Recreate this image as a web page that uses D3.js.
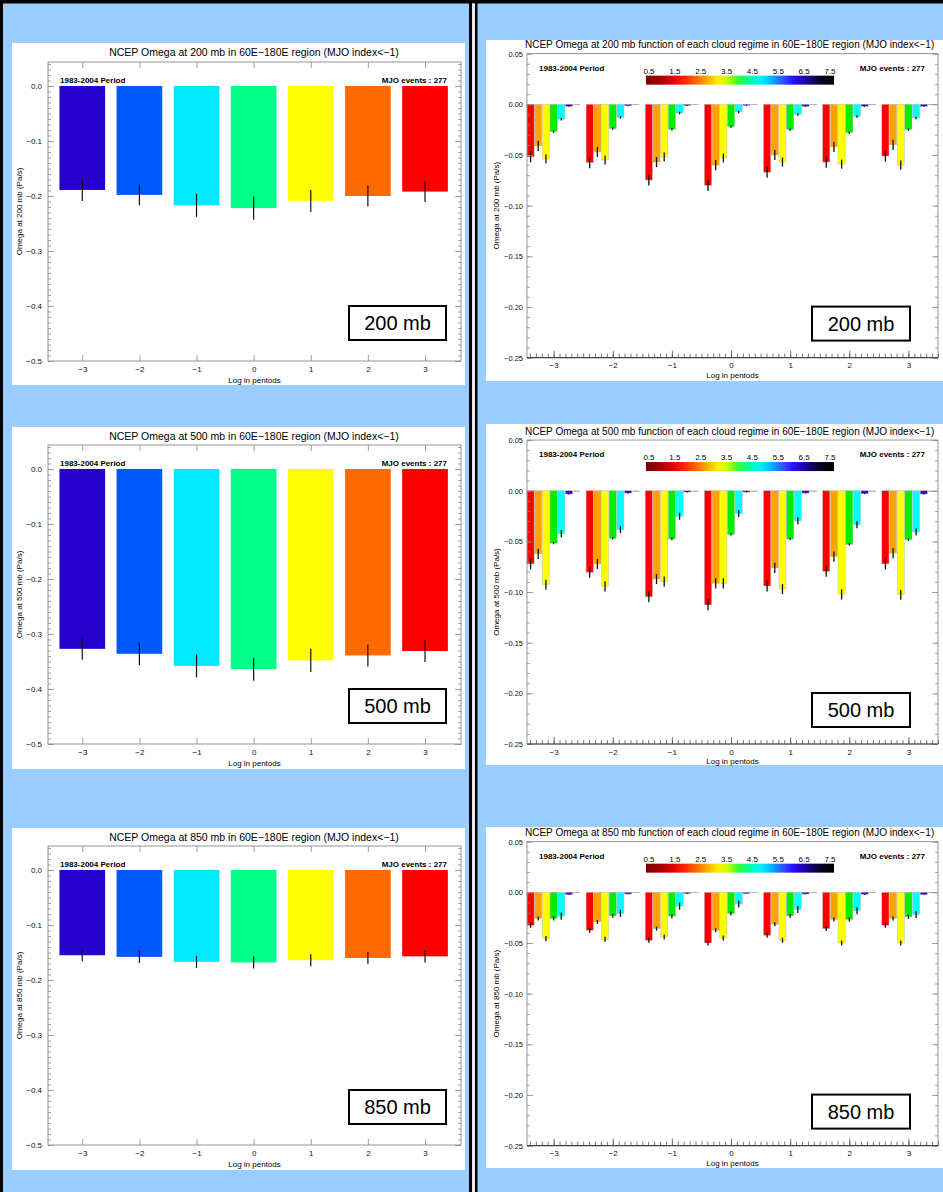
<!DOCTYPE html>
<html>
<head>
<meta charset="utf-8">
<script src="https://cdn.jsdelivr.net/npm/d3@7"></script>
<style>
  html, body { margin: 0; padding: 0; background: #99ccff; }
  svg { display: block; }
  text { font-family: "Liberation Sans", Arial, sans-serif; }
</style>
</head>
<body>
<svg id="chart" width="943" height="1192"></svg>
<script>
// ---------------- DATA ----------------
const lags = [-3, -2, -1, 0, 1, 2, 3];
const levels = ["200", "500", "850"];
const lagColors = ["#2600cc", "#0058ff", "#00eaff", "#00ff88", "#ffff00", "#ff6a00", "#ff0000"];

// mean omega (Pa/s) for each lag, left column
const omega200 = [-0.189, -0.198, -0.217, -0.222, -0.209, -0.200, -0.192];
const omega500 = [-0.327, -0.336, -0.358, -0.364, -0.348, -0.339, -0.331];
const omega850 = [-0.155, -0.158, -0.167, -0.168, -0.164, -0.160, -0.157];
const err200 = [0.020, 0.019, 0.021, 0.021, 0.020, 0.019, 0.019];
const err500 = [0.020, 0.021, 0.021, 0.021, 0.021, 0.020, 0.020];
const err850 = [0.011, 0.011, 0.011, 0.011, 0.011, 0.011, 0.011];

// omega by cloud regime (1..7) for each lag, right column
const regimes = [1, 2, 3, 4, 5, 6, 7];
const regimeColors = ["#ff0000", "#ffa200", "#ffff00", "#00ee00", "#00ffff", "#3c00e0", "#333333"];
const colorbarLabels = ["0.5", "1.5", "2.5", "3.5", "4.5", "5.5", "6.5", "7.5"];
const regime200 = [
  [-0.0517, -0.0410, -0.0540, -0.0270, -0.0148, -0.0020, -0.0005],
  [-0.0575, -0.0470, -0.0550, -0.0240, -0.0130, -0.0015, -0.0005],
  [-0.0747, -0.0570, -0.0520, -0.0247, -0.0086, -0.0012, -0.0005],
  [-0.0800, -0.0600, -0.0530, -0.0220, -0.0076, -0.0012, -0.0005],
  [-0.0670, -0.0500, -0.0570, -0.0250, -0.0100, -0.0020, -0.0005],
  [-0.0570, -0.0420, -0.0590, -0.0280, -0.0120, -0.0020, -0.0005],
  [-0.0510, -0.0400, -0.0600, -0.0250, -0.0135, -0.0020, -0.0005]
];
const regime500 = [
  [-0.0722, -0.0623, -0.0928, -0.0517, -0.0424, -0.0033, -0.0008],
  [-0.0805, -0.0722, -0.0944, -0.0470, -0.0384, -0.0023, -0.0008],
  [-0.1047, -0.0871, -0.0898, -0.0477, -0.0252, -0.0013, -0.0008],
  [-0.1127, -0.0915, -0.0915, -0.0431, -0.0225, -0.0013, -0.0008],
  [-0.0940, -0.0762, -0.0970, -0.0477, -0.0298, -0.0023, -0.0008],
  [-0.0795, -0.0650, -0.1024, -0.0530, -0.0335, -0.0030, -0.0008],
  [-0.0722, -0.0616, -0.1027, -0.0484, -0.0408, -0.0033, -0.0008]
];
const regime850 = [
  [-0.0325, -0.0258, -0.0457, -0.0258, -0.0235, -0.0023, -0.0005],
  [-0.0374, -0.0292, -0.0464, -0.0232, -0.0209, -0.0017, -0.0005],
  [-0.0474, -0.0358, -0.0441, -0.0235, -0.0136, -0.0013, -0.0005],
  [-0.0500, -0.0374, -0.0451, -0.0209, -0.0116, -0.0013, -0.0005],
  [-0.0424, -0.0315, -0.0474, -0.0232, -0.0169, -0.0017, -0.0005],
  [-0.0358, -0.0268, -0.0500, -0.0268, -0.0182, -0.0020, -0.0005],
  [-0.0325, -0.0258, -0.0500, -0.0242, -0.0219, -0.0023, -0.0005]
];
const regimeErr200 = [0.0055, 0.0050, 0.0045, 0.0012, 0.0012, 0.0004, 0];
const regimeErr500 = [0.0055, 0.0050, 0.0050, 0.0012, 0.0035, 0.0004, 0];
const regimeErr850 = [0.0025, 0.0020, 0.0025, 0.0020, 0.0035, 0.0003, 0];

const leftTicks = [0.0, -0.1, -0.2, -0.3, -0.4, -0.5];
const rightTicks = [0.05, 0.00, -0.05, -0.10, -0.15, -0.20, -0.25];

// ---------------- LAYOUT ----------------
const svg = d3.select("#chart");
const W = 943, H = 1192;
svg.append("rect").attr("width", W).attr("height", H).attr("fill", "#99ccff");
// outer borders
svg.append("rect").attr("x", 0).attr("y", 0).attr("width", W).attr("height", 3.5).attr("fill", "#000");
svg.append("rect").attr("x", 0).attr("y", 0).attr("width", 3).attr("height", H).attr("fill", "#000");
svg.append("rect").attr("x", 469).attr("y", 0).attr("width", 3).attr("height", H).attr("fill", "#000");
svg.append("rect").attr("x", 472).attr("y", 3.5).attr("width", 3).attr("height", H).attr("fill", "#e8e8e8");
svg.append("rect").attr("x", 475).attr("y", 0).attr("width", 2.5).attr("height", H).attr("fill", "#000");

const leftWhiteTop = [43, 427, 828];
const leftZero = [86, 469, 870];
const rightWhiteTop = [40, 424, 827];
const rightZero = [104.3, 490.7, 892.3];

const leftVals = [omega200, omega500, omega850];
const leftErrs = [err200, err500, err850];
const rightVals = [regime200, regime500, regime850];
const rightErrs = [regimeErr200, regimeErr500, regimeErr850];

const AXIS_COLOR = "#8a8a8a";

function styleAxis(g, fs) {
  g.select(".domain").remove();
  g.selectAll(".tick line").attr("stroke", AXIS_COLOR).attr("stroke-width", 0.8);
  g.selectAll(".tick text").attr("font-size", fs).attr("fill", "#111")
    .attr("font-family", "'Liberation Sans', Arial, sans-serif");
}

function drawLeft(k) {
  const g = svg.append("g");
  const zeroY = leftZero[k];
  const wt = leftWhiteTop[k];
  g.append("rect").attr("x", 12).attr("y", wt).attr("width", 453).attr("height", 342).attr("fill", "#fff");
  const x = d3.scaleLinear().domain([-3.6, 3.63]).range([48, 461]);
  const y = d3.scaleLinear().domain([-0.5, 0.0436]).range([zeroY + 275, zeroY - 24]);
  const fT = y(0.0436), fB = y(-0.5);

  g.append("text").attr("x", 254).attr("y", wt + 13).attr("text-anchor", "middle")
    .attr("font-size", 10.5).text(`NCEP Omega at ${levels[k]} mb in 60E\u2212180E region (MJO index<\u22121)`);

  // bars
  const bw = x(0.8) - x(0);
  g.selectAll(".bar").data(lags).join("rect")
    .attr("x", (d) => x(d) - bw / 2).attr("width", bw)
    .attr("y", y(0)).attr("height", (d, i) => y(leftVals[k][i]) - y(0))
    .attr("fill", (d, i) => lagColors[i]);
  g.selectAll(".err").data(lags).join("line")
    .attr("x1", (d) => x(d)).attr("x2", (d) => x(d))
    .attr("y1", (d, i) => y(leftVals[k][i] + leftErrs[k][i]))
    .attr("y2", (d, i) => y(leftVals[k][i] - leftErrs[k][i]))
    .attr("stroke", "#111").attr("stroke-width", 1.2);

  // frame
  g.append("rect").attr("x", 48).attr("y", fT).attr("width", 413).attr("height", fB - fT)
    .attr("fill", "none").attr("stroke", AXIS_COLOR).attr("stroke-width", 0.9);

  // axes
  const minor = d3.range(-50, 5).map((v) => v / 100);
  g.append("g").attr("transform", "translate(48,0)")
    .call(d3.axisLeft(y).tickValues(minor).tickSize(-3).tickFormat("")).call((a) => styleAxis(a, 8));
  g.append("g").attr("transform", "translate(461,0)")
    .call(d3.axisRight(y).tickValues(minor).tickSize(-3).tickFormat("")).call((a) => styleAxis(a, 8));
  g.append("g").attr("transform", "translate(48,0)")
    .call(d3.axisLeft(y).tickValues(leftTicks).tickSize(-6).tickPadding(6).tickFormat(d3.format(".1f")))
    .call((a) => styleAxis(a, 8));
  g.append("g").attr("transform", "translate(461,0)")
    .call(d3.axisRight(y).tickValues(leftTicks).tickSize(-6).tickFormat("")).call((a) => styleAxis(a, 8));
  g.append("g").attr("transform", `translate(0,${fB})`)
    .call(d3.axisBottom(x).tickValues(lags).tickSize(-6).tickPadding(5).tickFormat(d3.format("d")))
    .call((a) => styleAxis(a, 8));
  g.append("g").attr("transform", `translate(0,${fT})`)
    .call(d3.axisTop(x).tickValues(lags).tickSize(-6).tickFormat("")).call((a) => styleAxis(a, 8));

  g.append("text").attr("x", 254.5).attr("y", fB + 22).attr("text-anchor", "middle")
    .attr("font-size", 8).text("Log in pentods");
  g.append("text").attr("transform", `translate(22,${(fT + fB) / 2}) rotate(-90)`)
    .attr("text-anchor", "middle").attr("font-size", 8)
    .text(`Omega at ${levels[k]} mb (Pa/s)`);

  g.append("text").attr("x", 60).attr("y", zeroY - 3).attr("font-size", 8).attr("font-weight", "bold")
    .text("1983-2004 Period");
  g.append("text").attr("x", 447).attr("y", zeroY - 3).attr("font-size", 8).attr("font-weight", "bold")
    .attr("text-anchor", "end").text("MJO events : 277");

  // label box
  g.append("rect").attr("x", 349).attr("y", fB - 55).attr("width", 97).attr("height", 34)
    .attr("fill", "#fff").attr("stroke", "#000").attr("stroke-width", 2);
  g.append("text").attr("x", 397.5).attr("y", fB - 31).attr("text-anchor", "middle")
    .attr("font-size", 20).text(`${levels[k]} mb`);
}

// colorbar gradient
const defs = svg.append("defs");
const grad = defs.append("linearGradient").attr("id", "cbar").attr("x1", "0%").attr("x2", "100%");
[
  [0, "#7a0000"], [0.07, "#a00000"], [0.14, "#e00000"], [0.2, "#ff2000"], [0.27, "#ff6a00"],
  [0.33, "#ffb000"], [0.38, "#ffee00"], [0.43, "#ccff00"], [0.49, "#30ff30"], [0.55, "#00ffa0"],
  [0.61, "#00f0ff"], [0.67, "#00b0ff"], [0.73, "#3050ff"], [0.78, "#2a10ff"], [0.84, "#2000b0"],
  [0.9, "#100050"], [0.95, "#020010"], [1, "#000000"]
].forEach(([o, c]) => grad.append("stop").attr("offset", o).attr("stop-color", c));

function drawRight(k) {
  const g = svg.append("g");
  const zeroY = rightZero[k];
  const wt = rightWhiteTop[k];
  g.append("rect").attr("x", 486).attr("y", wt).attr("width", W - 486).attr("height", 341).attr("fill", "#fff");
  const x = d3.scaleLinear().domain([-3.45, 3.5]).range([527, 938]);
  const y = d3.scaleLinear().domain([-0.25, 0.05]).range([zeroY + 253.3, zeroY - 50.65]);
  const fT = y(0.05), fB = y(-0.25);

  g.append("text").attr("x", 525).attr("y", fT - 5.5).attr("font-size", 10)
    .text(`NCEP Omega at ${levels[k]} mb function of each cloud regime in 60E\u2212180E region (MJO index<\u22121)`);

  const half = x(0) - x(-0.45);
  const band = d3.scaleBand().domain(regimes).range([-half, half]).paddingInner(0.07);
  const cells = [];
  lags.forEach((lag, li) => regimes.forEach((r, ri) => cells.push({ lag, li, r, ri })));
  g.selectAll(".rbar").data(cells).join("rect")
    .attr("x", (d) => x(d.lag) + band(d.r)).attr("width", band.bandwidth())
    .attr("y", y(0)).attr("height", (d) => Math.max(0.6, y(rightVals[k][d.li][d.ri]) - y(0)))
    .attr("fill", (d) => regimeColors[d.ri])
    .attr("stroke", (d) => d.ri === 6 ? "none" : "#b5b5b5").attr("stroke-width", 0.4)
    .attr("opacity", (d) => d.ri === 6 ? 0.6 : 1);
  g.selectAll(".rerr").data(cells.filter((d) => rightErrs[k][d.ri] > 0)).join("line")
    .attr("x1", (d) => x(d.lag) + band(d.r) + band.bandwidth() / 2)
    .attr("x2", (d) => x(d.lag) + band(d.r) + band.bandwidth() / 2)
    .attr("y1", (d) => y(rightVals[k][d.li][d.ri] + rightErrs[k][d.ri]))
    .attr("y2", (d) => y(rightVals[k][d.li][d.ri] - rightErrs[k][d.ri]))
    .attr("stroke", "#111").attr("stroke-width", 1.3);

  g.append("rect").attr("x", 527).attr("y", fT).attr("width", 411).attr("height", fB - fT)
    .attr("fill", "none").attr("stroke", AXIS_COLOR).attr("stroke-width", 0.9);

  const minorY = d3.range(-25, 6).map((v) => v / 100);
  const minorX = d3.range(-34, 36).map((v) => v / 10);
  g.append("g").attr("transform", "translate(527,0)")
    .call(d3.axisLeft(y).tickValues(minorY).tickSize(-3).tickFormat("")).call((a) => styleAxis(a, 8));
  g.append("g").attr("transform", "translate(938,0)")
    .call(d3.axisRight(y).tickValues(minorY).tickSize(-3).tickFormat("")).call((a) => styleAxis(a, 8));
  g.append("g").attr("transform", "translate(527,0)")
    .call(d3.axisLeft(y).tickValues(rightTicks).tickSize(-6).tickPadding(4).tickFormat(d3.format(".2f")))
    .call((a) => styleAxis(a, 7.5));
  g.append("g").attr("transform", "translate(938,0)")
    .call(d3.axisRight(y).tickValues(rightTicks).tickSize(-6).tickFormat("")).call((a) => styleAxis(a, 8));
  g.append("g").attr("transform", `translate(0,${fB})`)
    .call(d3.axisBottom(x).tickValues(minorX).tickSize(-4).tickFormat(""))
    .call((a) => styleAxis(a, 8)).call((a) => a.selectAll(".tick line").attr("stroke", "#555"));
  g.append("g").attr("transform", `translate(0,${fB})`)
    .call(d3.axisBottom(x).tickValues(lags).tickSize(-7).tickPadding(5).tickFormat(d3.format("d")))
    .call((a) => styleAxis(a, 8)).call((a) => a.selectAll(".tick line").attr("stroke", "#555"));
  g.append("line").attr("x1", 527).attr("x2", 938).attr("y1", fB).attr("y2", fB)
    .attr("stroke", "#444").attr("stroke-width", 1.2);

  g.append("text").attr("x", 732.5).attr("y", fB + 20).attr("text-anchor", "middle")
    .attr("font-size", 8).text("Log in pentods");
  g.append("text").attr("transform", `translate(499,${(fT + fB) / 2}) rotate(-90)`)
    .attr("text-anchor", "middle").attr("font-size", 8)
    .text(`Omega at ${levels[k]} mb (Pa/s)`);

  g.append("text").attr("x", 539).attr("y", fT + 17).attr("font-size", 8).attr("font-weight", "bold")
    .text("1983-2004 Period");
  g.append("text").attr("x", 925).attr("y", fT + 17).attr("font-size", 8).attr("font-weight", "bold")
    .attr("text-anchor", "end").text("MJO events : 277");

  // colorbar
  const cb = d3.scaleLinear().domain([0.5, 7.5]).range([649, 830]);
  g.append("rect").attr("x", 646).attr("y", fT + 22).attr("width", 188).attr("height", 9)
    .attr("fill", "url(#cbar)");
  g.selectAll(".cbl").data(colorbarLabels).join("text")
    .attr("x", (d) => cb(+d)).attr("y", fT + 20).attr("text-anchor", "middle")
    .attr("font-size", 8).text((d) => d);

  g.append("rect").attr("x", 812).attr("y", fB - 51).attr("width", 98).attr("height", 34)
    .attr("fill", "#fff").attr("stroke", "#000").attr("stroke-width", 2);
  g.append("text").attr("x", 861).attr("y", fB - 27).attr("text-anchor", "middle")
    .attr("font-size", 20).text(`${levels[k]} mb`);
}

[0, 1, 2].forEach((k) => { drawLeft(k); drawRight(k); });
</script>
</body>
</html>
